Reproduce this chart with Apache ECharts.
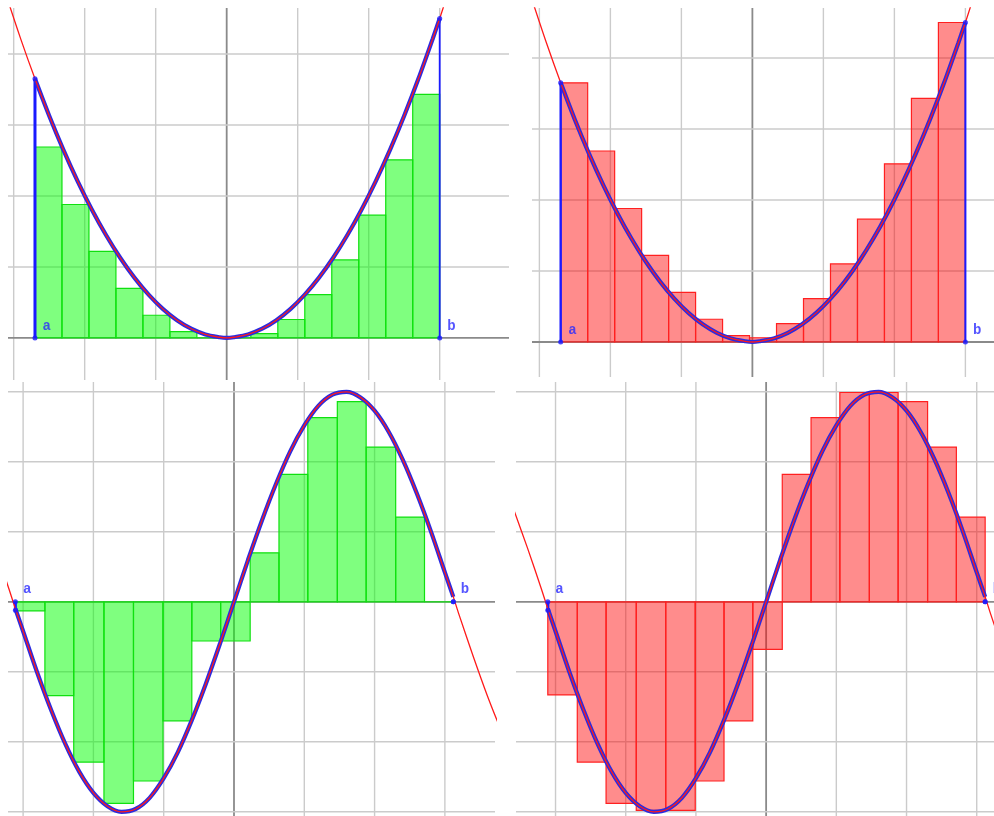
<!DOCTYPE html>
<html>
<head>
<meta charset="utf-8">
<script src="https://cdn.jsdelivr.net/npm/echarts@6/dist/echarts.min.js"></script>
<style>html,body{margin:0;padding:0;background:#fff}#c{width:994px;height:816px}</style>
</head>
<body>
<div id="c"></div>
<script>
// ---- data ----
const parabolaX = [-3.1,-2.9,-2.7,-2.5,-2.3,-2.1,-1.9,-1.7,-1.5,-1.3,-1.1,-0.9,-0.7,-0.5,-0.3,-0.1,0,0.1,0.3,0.5,0.7,0.9,1.1,1.3,1.5,1.7,1.9,2.1,2.3,2.5,2.7,2.9,3.0,3.1];
const parabolaY = [4.81,4.21,3.65,3.13,2.65,2.21,1.81,1.45,1.13,0.85,0.61,0.41,0.25,0.13,0.05,0.01,0,0.01,0.05,0.13,0.25,0.41,0.61,0.85,1.13,1.45,1.81,2.21,2.65,3.13,3.65,4.21,4.5,4.81];
const parabolaEdges = [-2.7,-2.32,-1.94,-1.56,-1.18,-0.8,-0.42,-0.04,0.34,0.72,1.10,1.48,1.86,2.24,2.62,3.0];
const parabolaLower = [2.69,1.88,1.22,0.70,0.32,0.09,0.00,0.00,0.06,0.26,0.61,1.10,1.73,2.51,3.43];
const parabolaUpper = [3.65,2.69,1.88,1.22,0.70,0.32,0.09,0.06,0.26,0.61,1.10,1.73,2.51,3.43,4.50];
const parabolaEnds = [[-2.7, 3.65], [3.0, 4.5]];

const sineX = [-3.6,-3.4,-3.2,-3.11,-3.0,-2.8,-2.6,-2.4,-2.2,-2.0,-1.8,-1.6,-1.4,-1.2,-1.0,-0.8,-0.6,-0.4,-0.2,0,0.2,0.4,0.6,0.8,1.0,1.2,1.4,1.6,1.8,2.0,2.2,2.4,2.6,2.8,3.0,3.12,3.2,3.4,3.6,3.8];
const sineY = [1.33,0.77,0.18,-0.10,-0.42,-1.01,-1.55,-2.03,-2.43,-2.73,-2.92,-3.00,-2.96,-2.80,-2.52,-2.15,-1.69,-1.17,-0.60,0,0.60,1.17,1.69,2.15,2.52,2.80,2.96,3.00,2.92,2.73,2.43,2.03,1.55,1.01,0.42,0.07,-0.18,-0.77,-1.33,-1.84];
const sineEdges = [-3.11,-2.69,-2.28,-1.85,-1.43,-1.01,-0.60,-0.19,0.23,0.64,1.05,1.47,1.88,2.30,2.71,3.12];
const sineGreen = [-0.13,-1.34,-2.29,-2.88,-2.56,-1.70,-0.56,-0.56,0.70,1.82,2.63,2.86,2.21,1.21,0.00];
const sineRed = [-1.33,-2.29,-2.88,-2.98,-2.98,-2.56,-1.70,-0.68,1.82,2.63,2.99,2.99,2.86,2.21,1.21];
const sineEnds = [[-3.11, -0.12], [3.12, 0.0]];

const gridXTicks = [-3,-2,-1,0,1,2,3];
const gridYTicksTop = [0,1,2,3,4];
const gridYTicksBottom = [-3,-2,-1,0,1,2,3];
const endLabels = ['a', 'b'];

// ---- layout ----
const panels = [
  {grid:{left:8, top:8, width:501, height:372}, x:[-3.08,3.976], y:[-0.592,4.648]},
  {grid:{left:532, top:8, width:462, height:369}, x:[-3.104,3.403], y:[-0.493,4.704]},
  {grid:{left:8, top:382, width:487, height:434}, x:[-3.215,3.713], y:[-3.06,3.14]},
  {grid:{left:516, top:382, width:478, height:434}, x:[-3.563,3.246], y:[-3.06,3.14]}
];

const zip = (xs, ys) => xs.map((x, i) => [x, ys[i]]);
const parabolaPts = zip(parabolaX, parabolaY);
const sinePts = zip(sineX, sineY);

function gridSeries(idx, xt, yt) {
  const data = [];
  xt.forEach(v => data.push([v, 0, v === 0 ? 1 : 0]));
  yt.forEach(v => data.push([v, 1, v === 0 ? 1 : 0]));
  return {
    type:'custom', xAxisIndex:idx, yAxisIndex:idx, z:1, silent:true, data,
    encode:{x:0, y:1},
    renderItem(params, api) {
      const cs = params.coordSys;
      const v = api.value(0), dir = api.value(1), ax = api.value(2);
      let shape;
      if (dir === 0) {
        const x = api.coord([v, 0])[0];
        shape = {x1:x, y1:cs.y, x2:x, y2:cs.y + cs.height};
      } else {
        const y = api.coord([0, v])[1];
        shape = {x1:cs.x, y1:y, x2:cs.x + cs.width, y2:y};
      }
      return {type:'line', shape, style:{stroke: ax ? '#8a8a8a' : '#cbcbcb', lineWidth: ax ? 1.8 : 1.4}};
    }
  };
}

function rectSeries(idx, edges, heights, fill, stroke) {
  const data = heights.map((h, i) => [edges[i], edges[i + 1], h]);
  return {
    type:'custom', xAxisIndex:idx, yAxisIndex:idx, z:3, silent:true, data,
    encode:{x:[0,1], y:2},
    renderItem(params, api) {
      const p0 = api.coord([api.value(0), 0]);
      const p1 = api.coord([api.value(1), api.value(2)]);
      return {type:'rect',
        shape:{x:p0[0], y:Math.min(p0[1], p1[1]), width:p1[0] - p0[0], height:Math.abs(p1[1] - p0[1])},
        style:{fill, stroke, lineWidth:1.2}};
    }
  };
}

function curveSeries(idx, pts, ends, verticalWidths) {
  const a = ends[0][0], b = ends[1][0];
  const inside = pts.filter(p => p[0] >= a - 1e-9 && p[0] <= b + 1e-9);
  const out = [];
  // blue segments at a and b
  ends.forEach((e, i) => {
    out.push({type:'line', xAxisIndex:idx, yAxisIndex:idx, z:5, silent:true, showSymbol:false,
      data:[[e[0], 0], [e[0], e[1]]], lineStyle:{color:'#1a1aff', width:verticalWidths[i]}});
  });
  out.push({type:'line', xAxisIndex:idx, yAxisIndex:idx, z:6, silent:true, showSymbol:false, smooth:0.3,
    data:inside, lineStyle:{color:'#2b2be0', width:4.2}});
  out.push({type:'line', xAxisIndex:idx, yAxisIndex:idx, z:7, silent:true, showSymbol:false, smooth:0.3,
    data:pts, lineStyle:{color:'#ff1a1a', width:1.3}});
  // endpoint dots
  out.push({type:'scatter', xAxisIndex:idx, yAxisIndex:idx, z:8, silent:true, symbolSize:5,
    itemStyle:{color:'#1a1aff'},
    data:[[ends[0][0], ends[0][1]], [ends[1][0], ends[1][1]]]});
  out.push({type:'scatter', xAxisIndex:idx, yAxisIndex:idx, z:9, silent:true, symbolSize:5,
    itemStyle:{color:'#1a1aff'},
    data:ends.map((e, i) => ({value:[e[0], 0], name:endLabels[i]})),
    label:{show:true, position:'right', offset:[0,-12], formatter:p => p.name,
      color:'#2a2aff', fontSize:14, fontWeight:'bold', fontFamily:'Liberation Mono, DejaVu Sans Mono, monospace'}});
  return out;
}

const GREEN_FILL = 'rgba(0,255,0,0.5)', GREEN_LINE = '#10e010';
const RED_FILL = 'rgba(255,0,0,0.45)', RED_LINE = '#ff2020';

const series = [
  gridSeries(0, gridXTicks, gridYTicksTop),
  gridSeries(1, gridXTicks, gridYTicksTop),
  gridSeries(2, gridXTicks, gridYTicksBottom),
  gridSeries(3, gridXTicks, gridYTicksBottom),
  rectSeries(0, parabolaEdges, parabolaLower, GREEN_FILL, GREEN_LINE),
  rectSeries(1, parabolaEdges, parabolaUpper, RED_FILL, RED_LINE),
  rectSeries(2, sineEdges, sineGreen, GREEN_FILL, GREEN_LINE),
  rectSeries(3, sineEdges, sineRed, RED_FILL, RED_LINE),
  ...curveSeries(0, parabolaPts, parabolaEnds, [3, 1.8]),
  ...curveSeries(1, parabolaPts, parabolaEnds, [2.4, 2]),
  ...curveSeries(2, sinePts, sineEnds, [3, 2]),
  ...curveSeries(3, sinePts, sineEnds, [3, 2])
];

const hidden = {axisLine:{show:false}, axisTick:{show:false}, axisLabel:{show:false}, splitLine:{show:false}};
const option = {
  animation:false,
  backgroundColor:'#ffffff',
  grid: panels.map(p => Object.assign({containLabel:false}, p.grid)),
  xAxis: panels.map((p, i) => Object.assign({type:'value', gridIndex:i, min:p.x[0], max:p.x[1]}, hidden)),
  yAxis: panels.map((p, i) => Object.assign({type:'value', gridIndex:i, min:p.y[0], max:p.y[1]}, hidden)),
  series
};
const chart = echarts.init(document.getElementById('c'), null, {renderer:'canvas'});
chart.setOption(option);
</script>
</body>
</html>
